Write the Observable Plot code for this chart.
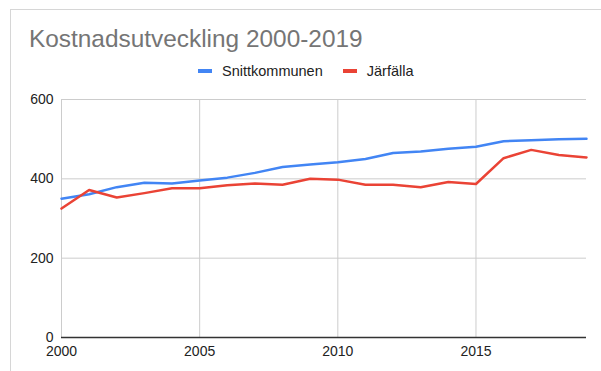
<!DOCTYPE html>
<html>
<head>
<meta charset="utf-8">
<script src="https://cdn.jsdelivr.net/npm/d3@7"></script>
<script src="https://cdn.jsdelivr.net/npm/@observablehq/plot@0.6"></script>
<style>
  html, body { margin: 0; padding: 0; background: #fff; }
  body { width: 601px; height: 371px; position: relative; overflow: hidden; font-family: "Liberation Sans", Arial, sans-serif; }
  #card { position: absolute; left: 10px; top: 9px; width: 700px; height: 500px; border: 1px solid #d6d6d6; box-sizing: border-box; }
  #title { position: absolute; left: 29px; top: 25px; font-size: 24.4px; color: #757575; white-space: nowrap; }
  #legend { position: absolute; left: 198px; top: 63px; font-size: 14.5px; color: #222; white-space: nowrap; display: flex; align-items: center; }
  .sw { display: inline-block; width: 14px; height: 4px; margin-right: 10px; }
  .item { display: flex; align-items: center; margin-right: 20px; }
  #chart { position: absolute; left: 0; top: 80px; }
</style>
</head>
<body>
<div id="card"></div>
<div id="title">Kostnadsutveckling 2000-2019</div>
<div id="legend"></div>
<div id="chart"></div>
<script>
const years = [2000,2001,2002,2003,2004,2005,2006,2007,2008,2009,2010,2011,2012,2013,2014,2015,2016,2017,2018,2019];
const snittkommunen = [350,361,379,390,388,396,403,415,430,436,442,450,465,469,476,481,495,497,500,501];
const jarfalla = [325,372,353,364,376,376,384,388,385,400,398,385,385,379,392,387,452,473,460,454];
const seriesNames = ["Snittkommunen", "Järfälla"];
const seriesColors = ["#4285f4", "#ea4335"];
const yTicks = [0, 200, 400, 600];
const xTicks = [2000, 2005, 2010, 2015];

const data = [
  ...years.map((y, i) => ({year: y, value: snittkommunen[i], series: seriesNames[0]})),
  ...years.map((y, i) => ({year: y, value: jarfalla[i], series: seriesNames[1]}))
];

const legend = document.getElementById("legend");
seriesNames.forEach((n, i) => {
  const it = document.createElement("span");
  it.className = "item";
  it.innerHTML = `<span class="sw" style="background:${seriesColors[i]}"></span><span>${n}</span>`;
  legend.appendChild(it);
});

const chart = Plot.plot({
  width: 601,
  height: 291,
  marginLeft: 61,
  marginRight: 15,
  marginTop: 19,
  marginBottom: 34,
  style: {fontFamily: "Liberation Sans, Arial, sans-serif", fontSize: "14px", color: "#222", background: "transparent"},
  x: {domain: [2000, 2019], ticks: xTicks, tickFormat: "d", tickSize: 0, tickPadding: 9, label: null},
  y: {domain: [0, 600], ticks: yTicks, tickSize: 0, tickPadding: 8, label: null},
  color: {domain: seriesNames, range: seriesColors},
  marks: [
    Plot.gridY(yTicks, {stroke: "#cccccc", strokeOpacity: 1, strokeWidth: 1}),
    Plot.gridX(xTicks, {stroke: "#cccccc", strokeOpacity: 1, strokeWidth: 1}),
    Plot.axisX({ticks: xTicks, tickFormat: "d", tickSize: 0, tickPadding: 9}),
    Plot.axisY({ticks: yTicks, tickSize: 0, tickPadding: 8}),
    Plot.lineY(data, {x: "year", y: "value", stroke: "series", strokeWidth: 2.5}),
    Plot.ruleY([0], {stroke: "#333", strokeWidth: 1.5})
  ]
});
document.getElementById("chart").appendChild(chart);
</script>
</body>
</html>
